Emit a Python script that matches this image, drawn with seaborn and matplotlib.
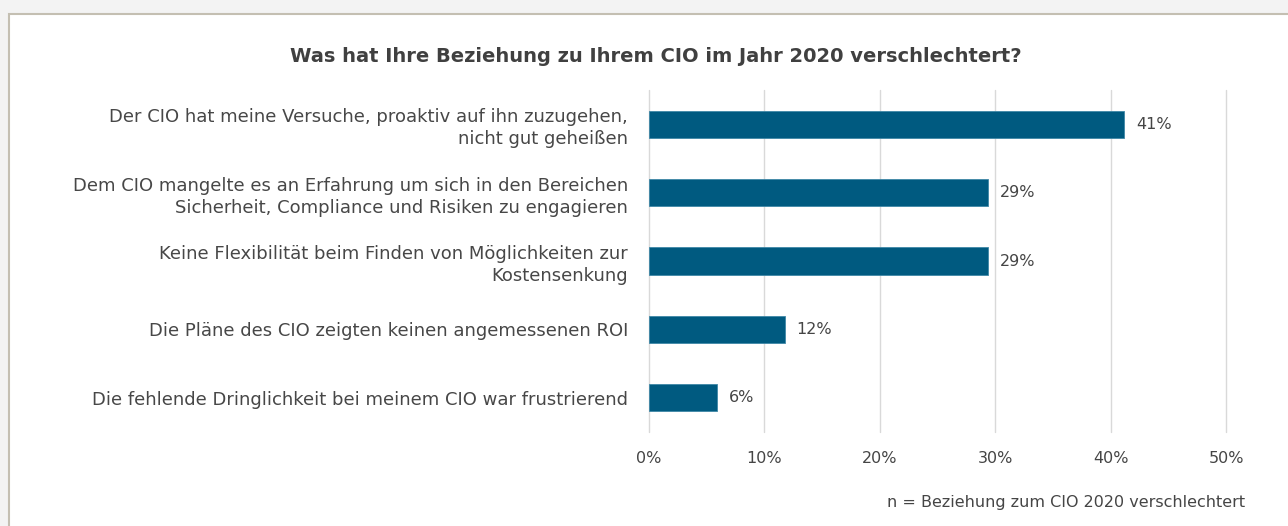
import matplotlib
matplotlib.use("Agg")
import matplotlib.pyplot as plt
import seaborn as sns
import pandas as pd
from matplotlib.patches import Rectangle

categories = [
    "Der CIO hat meine Versuche, proaktiv auf ihn zuzugehen,\nnicht gut geheißen",
    "Dem CIO mangelte es an Erfahrung um sich in den Bereichen\nSicherheit, Compliance und Risiken zu engagieren",
    "Keine Flexibilität beim Finden von Möglichkeiten zur\nKostensenkung",
    "Die Pläne des CIO zeigten keinen angemessenen ROI",
    "Die fehlende Dringlichkeit bei meinem CIO war frustrierend",
]
values = [41.2, 29.4, 29.4, 11.8, 5.9]
x_ticks = [0, 10, 20, 30, 40, 50]
tick_labels = ["0%", "10%", "20%", "30%", "40%", "50%"]
title = "Was hat Ihre Beziehung zu Ihrem CIO im Jahr 2020 verschlechtert?"
footnote = "n = Beziehung zum CIO 2020 verschlechtert"

sns.set_theme(style="white")
plt.rcParams["font.family"] = ["DejaVu Sans"]

W, H = 1288, 526
fig = plt.figure(figsize=(W / 100, H / 100), dpi=100, facecolor="#f3f3f3")
# white chart panel with frame
fig.patches.append(Rectangle((9 / W, -0.1), 1.2, 1.1 - 14 / H, transform=fig.transFigure,
                             facecolor="white", edgecolor="#c4bfb2", linewidth=1.5, zorder=-5))

ax = fig.add_axes([649 / W, 1 - 432 / H, (1226 - 649) / W, (432 - 90) / H])
ax.set_facecolor("none")
df = pd.DataFrame({"cat": categories, "val": values})
sns.barplot(data=df, y="cat", x="val", orient="h", color="#005a80", width=0.4,
            saturation=1, ax=ax, zorder=3, edgecolor="#3f87a6", linewidth=0.6)
ax.set_xlim(0, 50)
ax.set_ylim(4.5, -0.5)
ax.set_xticks(x_ticks)
ax.set_xticklabels(tick_labels, fontsize=11.5, color="#454545")
ax.tick_params(axis="x", length=0, pad=14)
ax.tick_params(axis="y", length=0, pad=15)
for lbl in ax.get_yticklabels():
    lbl.set_fontsize(13)
    lbl.set_color("#474747")
    lbl.set_horizontalalignment("right")
    lbl.set_multialignment("right")
    lbl.set_linespacing(1.3)
ax.grid(axis="x", color="#d9d9d9", linewidth=1, zorder=0)
for gl in ax.get_xgridlines():
    gl.set_clip_on(False)
for s in ax.spines.values():
    s.set_visible(False)
ax.set_xlabel("")
ax.set_ylabel("")

for i, v in enumerate(values):
    ax.text(v + 1.0, i, f"{round(v)}%", va="center", ha="left", fontsize=11.5, color="#454545")

fig.text(656 / W, 1 - 56 / H, title, ha="center", va="center", fontsize=14,
         fontweight="bold", color="#404040")
fig.text(1245 / W, 1 - 502 / H, footnote, ha="right", va="center", fontsize=11.5,
         color="#454545")

fig.savefig("out.png", dpi=100, facecolor=fig.get_facecolor())
